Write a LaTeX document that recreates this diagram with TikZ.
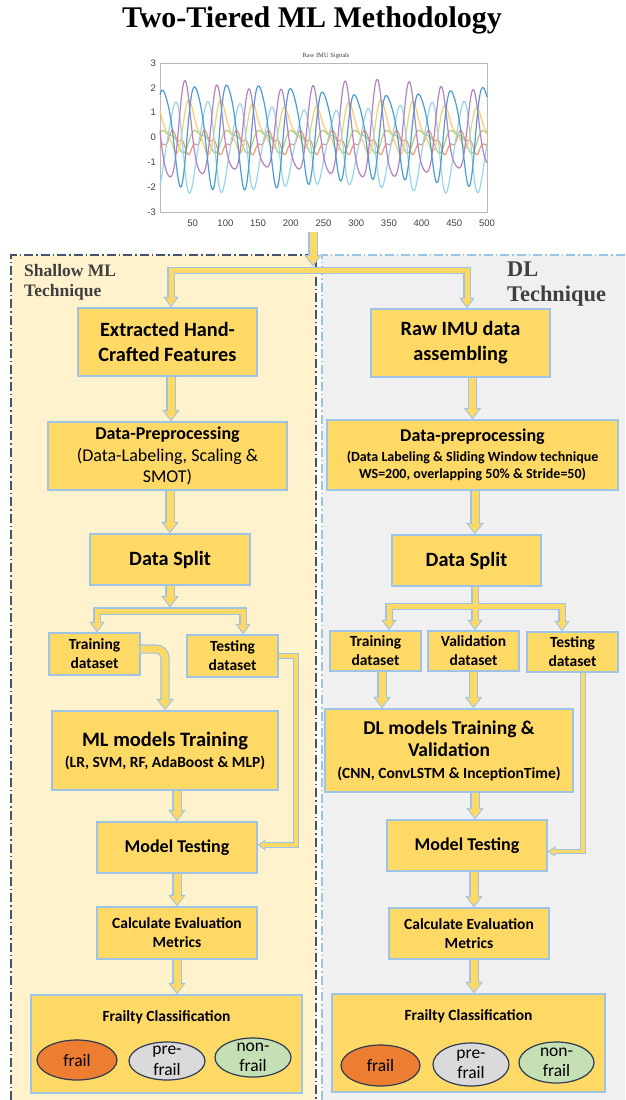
\documentclass[tikz,border=0pt]{standalone}
\usepackage{fontspec}
\newfontfamily\calibri{Carlito}
\newfontfamily\tnr{Liberation Serif}
\newfontfamily\arial{Liberation Sans}
\usetikzlibrary{arrows.meta,shapes.geometric,calc}
\pgfdeclarelayer{panel}
\pgfdeclarelayer{arrbg}
\pgfsetlayers{panel,arrbg,main}
\definecolor{boxY}{HTML}{FFD966}
\definecolor{boxB}{HTML}{9DC3E6}
\definecolor{leftfill}{HTML}{FFF2CC}
\definecolor{rightfill}{HTML}{F0F0F0}
\definecolor{leftline}{HTML}{44546A}
\definecolor{lblgray}{HTML}{404040}
\definecolor{frailC}{HTML}{ED7D31}
\definecolor{preC}{HTML}{DADADA}
\definecolor{nonC}{HTML}{C5E0B4}
\definecolor{ellB}{HTML}{2F3B55}
\definecolor{sigB}{HTML}{4D9BD1}
\definecolor{sigP}{HTML}{B580C4}
\definecolor{sigL}{HTML}{96D4F0}
\definecolor{sigY}{HTML}{F5CD6E}
\definecolor{sigO}{HTML}{EC9A7A}
\definecolor{sigG}{HTML}{A9CF7F}
\newcommand\fsz[2]{\fontsize{#1}{#2}\selectfont}
\newcommand\barr[2]{\begin{pgfonlayer}{arrbg}\draw[bg#1] #2;\end{pgfonlayer}\draw[fg#1] #2;}
\begin{document}
\begin{tikzpicture}[x=1pt,y=-1pt,
  box/.style={draw=boxB, fill=boxY, line width=1.3pt, inner sep=1pt, align=center, text=black},
  ell/.style={ellipse, draw=ellB, line width=1.2pt, inner sep=0pt},
  elltext/.style={inner sep=0pt, align=center, font=\calibri\fsz{17.5}{20.5}},
  tick/.style={inner sep=0pt, font=\arial\fsz{9.5}{10}, text=lblgray},
  bgA/.style={draw=boxB, line width=9.2pt, -{Triangle[width=17.4pt,length=11.4pt,line width=0pt]}},
  fgA/.style={draw=boxY, line width=7pt, shorten >=1.8pt, -{Triangle[width=13pt,length=8.5pt,line width=0pt]}},
  bgS/.style={draw=boxB, line width=7.2pt, -{Triangle[width=15.3pt,length=10.5pt,line width=0pt]}},
  fgS/.style={draw=boxY, line width=5pt, shorten >=1.86pt, -{Triangle[width=11pt,length=7.5pt,line width=0pt]}},
  bgT/.style={draw=boxB, line width=5.5pt, -{Triangle[width=10.8pt,length=7.7pt,line width=0pt]}},
  fgT/.style={draw=boxY, line width=3.5pt, shorten >=1.74pt, -{Triangle[width=7pt,length=5pt,line width=0pt]}},
  bgR/.style={bgA, rounded corners=9pt},
  fgR/.style={fgA, rounded corners=9pt},
  sig/.style={line width=1.2pt, line join=round}
]
\useasboundingbox (0,0) rectangle (625,1100);

% title
\node[inner sep=0pt, font=\tnr\bfseries\fsz{30}{32}] (title) at (312,20) {Two-Tiered ML Methodology};

% plot
\node[draw=gray!55, line width=0.8pt, minimum width=327, minimum height=149, inner sep=0pt] (plot) at (323.5,137.5) {};
\node[inner sep=0pt, font=\tnr\fsz{6.5}{7}, text=lblgray] (ptitle) at (326,56) {Raw IMU Signals};
\foreach \v [count=\i] in {-3,...,3} \node[tick, anchor=east] (yl\i) at (156,{137.5-24.83*\v}) {\v};
\foreach \t [count=\i] in {50,100,...,500} \node[tick] (xl\i) at ({160+0.654*\t},223) {\t};
\begin{scope}
\clip (plot.south west) rectangle (plot.north east);
\draw[sig, sigO] plot[domain=0:500,samples=400] ({160+0.654*\x},{137.5-24.83*(-0.2+0.35*sin(7.35*\x+300)+0.15*sin(22.05*\x+40))});
\draw[sig, sigG] plot[domain=0:500,samples=400] ({160+0.654*\x},{137.5-24.83*(-0.1+0.4*sin(7.35*\x+20)+0.15*sin(14.7*\x+90))});
\draw[sig, sigY] plot[domain=0:500,samples=400] ({160+0.654*\x},{137.5-24.83*(0.35+0.85*(1+0.2*sin(1.3*\x))*sin(7.35*\x+110)+0.25*sin(14.7*\x+200))});
\draw[sig, sigL] plot[domain=0:500,samples=400] ({160+0.654*\x},{137.5-24.83*(-0.35+1.6*(1+0.12*sin(0.9*\x+40))*sin(7.35*\x+286)+0.25*sin(14.7*\x+20))});
\draw[sig, sigP] plot[domain=0:500,samples=400] ({160+0.654*\x},{137.5-24.83*(0.1+1.75*(1+0.12*sin(1.1*\x+90))*sin(7.35*\x+166)+0.3*sin(14.7*\x+260))});
\draw[sig, sigB] plot[domain=0:500,samples=400] ({160+0.654*\x},{137.5-24.83*(0.2+1.85*(1+0.12*sin(0.8*\x))*sin(7.35*\x+46)+0.3*sin(14.7*\x+140))});
\end{scope}

% panels
\begin{pgfonlayer}{panel}
\fill[leftfill] (11,255) rectangle (316,1100);
\draw[leftline, line width=1.3pt, dash pattern=on 9pt off 3pt on 1.5pt off 3pt] (11,1100) -- (11,255) -- (316,255) -- (316,1100);
\fill[rightfill] (322,255) rectangle (625,1100);
\draw[boxB, line width=1.3pt, dash pattern=on 9pt off 3pt on 1.5pt off 3pt] (322,1100) -- (322,255) -- (625,255);
\end{pgfonlayer}
\node[inner sep=0pt, anchor=west, align=left, text=lblgray, font=\tnr\bfseries\fsz{17.5}{20}] (lblL) at (24,282) {Shallow ML\\Technique};
\node[inner sep=0pt, anchor=west, align=left, text=lblgray, font=\tnr\bfseries\fsz{22.4}{25}] (lblR) at (507,284.5) {DL\\Technique};

% left column
\node[box, minimum width=179, minimum height=68, font=\calibri\bfseries\fsz{20.3}{25}] (ext) at (167.5,342) {Extracted Hand-\\Crafted Features};
\node[box, minimum width=239, minimum height=68, font=\calibri\fsz{18}{21.5}] (pre) at (167.5,456) {{\bfseries Data-Preprocessing}\\(Data-Labeling, Scaling \&\\SMOT)};
\node[box, minimum width=160, minimum height=51, font=\calibri\bfseries\fsz{20.3}{24}] (ds) at (170,559.5) {Data Split};
\node[box, minimum width=91, minimum height=42, font=\calibri\bfseries\fsz{15.5}{19}] (trn) at (94.5,654) {Training\\dataset};
\node[box, minimum width=91, minimum height=42, font=\calibri\bfseries\fsz{15.5}{19}] (tst) at (232.5,656) {Testing\\dataset};
\node[box, minimum width=226, minimum height=79, font=\calibri\bfseries\fsz{20.5}{21}] (ml) at (165,750.5) {ML models Training\\{\fsz{15.5}{21}(LR, SVM, RF, AdaBoost \& MLP)}};
\node[box, minimum width=160, minimum height=51, font=\calibri\bfseries\fsz{18}{22}] (mt) at (177,847.5) {Model Testing};
\node[box, minimum width=160, minimum height=52, font=\calibri\bfseries\fsz{15.5}{19}] (calc) at (177,933) {Calculate Evaluation\\Metrics};
\node[box, minimum width=271, minimum height=98] (fr) at (166.5,1044) {};
\node[inner sep=0pt, font=\calibri\bfseries\fsz{15.5}{19}] (frt) at (166.5,1017) {Frailty Classification};
\node[ell, fill=frailC, minimum width=80, minimum height=40] (e1) at (77,1060) {};
\node[elltext] (e1t) at (e1) {frail};
\node[ell, fill=preC, minimum width=76, minimum height=38] (e2) at (167,1061) {};
\node[elltext] (e2t) at (e2) {pre-\\frail};
\node[ell, fill=nonC, minimum width=76, minimum height=39] (e3) at (253,1057.5) {};
\node[elltext] (e3t) at (e3) {non-\\frail};

% right column
\node[box, minimum width=179, minimum height=68, font=\calibri\bfseries\fsz{20.3}{25}] (raw) at (460.5,343) {Raw IMU data\\assembling};
\node[box, minimum width=291, minimum height=70, font=\calibri\bfseries\fsz{14}{17.5}] (pre2) at (472.5,455) {{\fsz{18}{20}Data-preprocessing}\\[2.5pt](Data Labeling \& Sliding Window technique\\WS=200, overlapping 50\% \& Stride=50)};
\node[box, minimum width=149, minimum height=51, font=\calibri\bfseries\fsz{20.3}{24}] (ds2) at (466.5,560.5) {Data Split};
\node[box, minimum width=91, minimum height=40, font=\calibri\bfseries\fsz{15.5}{19}] (trn2) at (375.5,651) {Training\\dataset};
\node[box, minimum width=91, minimum height=40, font=\calibri\bfseries\fsz{15.5}{19}] (val) at (473.5,651) {Validation\\dataset};
\node[box, minimum width=91, minimum height=40, font=\calibri\bfseries\fsz{15.5}{19}] (tst2) at (572.5,652) {Testing\\dataset};
\node[box, minimum width=248, minimum height=83, font=\calibri\bfseries\fsz{19.5}{22}] (dl) at (449,750.5) {DL models Training \&\\Validation\\{\fsz{15.5}{22}(CNN, ConvLSTM \& InceptionTime)}};
\node[box, minimum width=160, minimum height=51, font=\calibri\bfseries\fsz{18}{22}] (mt2) at (467,845.5) {Model Testing};
\node[box, minimum width=160, minimum height=51, font=\calibri\bfseries\fsz{15.5}{19}] (calc2) at (469,933.5) {Calculate Evaluation\\Metrics};
\node[box, minimum width=273, minimum height=98] (fr2) at (468.5,1043) {};
\node[inner sep=0pt, font=\calibri\bfseries\fsz{15.5}{19}] (frt2) at (468.5,1016) {Frailty Classification};
\node[ell, fill=frailC, minimum width=79, minimum height=41] (f1) at (380.5,1065.5) {};
\node[elltext] (f1t) at (f1) {frail};
\node[ell, fill=preC, minimum width=76, minimum height=43] (f2) at (471,1064.5) {};
\node[elltext] (f2t) at (f2) {pre-\\frail};
\node[ell, fill=nonC, minimum width=75, minimum height=41] (f3) at (556.5,1062.5) {};
\node[elltext] (f3t) at (f3) {non-\\frail};

% helper coordinates
\coordinate (pbot) at (313,232);
\coordinate (sT) at (313,266.5);
\coordinate (s1) at (313,270.5);
\coordinate (dsbt) at (170,607.5);
\coordinate (dsb) at (170,611);
\coordinate (tL) at (296,0);
\coordinate (j2) at (475,606.5);
\coordinate (c382) at (382,0);
\coordinate (c474) at (474,0);
\coordinate (c583) at (583,0);

% connectors
\barr{A}{(pbot) -- (sT)}
\barr{S}{(s1) -| ([xshift=3.5pt]ext.north)}
\barr{S}{(s1) -| ([xshift=6.5pt]raw.north)}
\barr{A}{([xshift=3.5pt]ext.south) -- ([xshift=3.5pt]pre.north)}
\barr{A}{(ds.north |- pre.south) -- (ds.north)}
\barr{A}{(ds.south) -- (dsbt)}
\barr{S}{(dsb) -| ([xshift=2.5pt]trn.north)}
\barr{S}{(dsb) -| ([xshift=10.5pt]tst.north)}
\barr{R}{([yshift=5pt]trn.east) -| (ml.north)}
\barr{T}{(tst.east) -- (tst.east -| tL) |- ([yshift=2.5pt]mt.east)}
\barr{A}{(mt.north |- ml.south) -- (mt.north)}
\barr{A}{(mt.south) -- (calc.north)}
\barr{A}{(calc.south) -- (calc.south |- fr.north)}

\barr{A}{(pre2.north |- raw.south) -- (pre2.north)}
\barr{A}{(j2 |- pre2.south) -- (j2 |- ds2.north)}
\barr{S}{(j2 |- ds2.south) -- (j2) -| ([xshift=13.5pt]trn2.north)}
\barr{S}{(j2) -- (j2 |- val.north)}
\barr{S}{(j2) -| ([xshift=-10.5pt]tst2.north)}
\barr{A}{(c382 |- trn2.south) -- (c382 |- dl.north)}
\barr{A}{(val.south) -- (val.south |- dl.north)}
\barr{T}{(c583 |- tst2.south) |- ([yshift=-6pt]mt2.east)}
\barr{A}{(j2 |- dl.south) -- (j2 |- mt2.north)}
\barr{A}{(c474 |- mt2.south) -- (c474 |- calc2.north)}
\barr{A}{(c474 |- calc2.south) -- (c474 |- fr2.north)}
\end{tikzpicture}
\end{document}
